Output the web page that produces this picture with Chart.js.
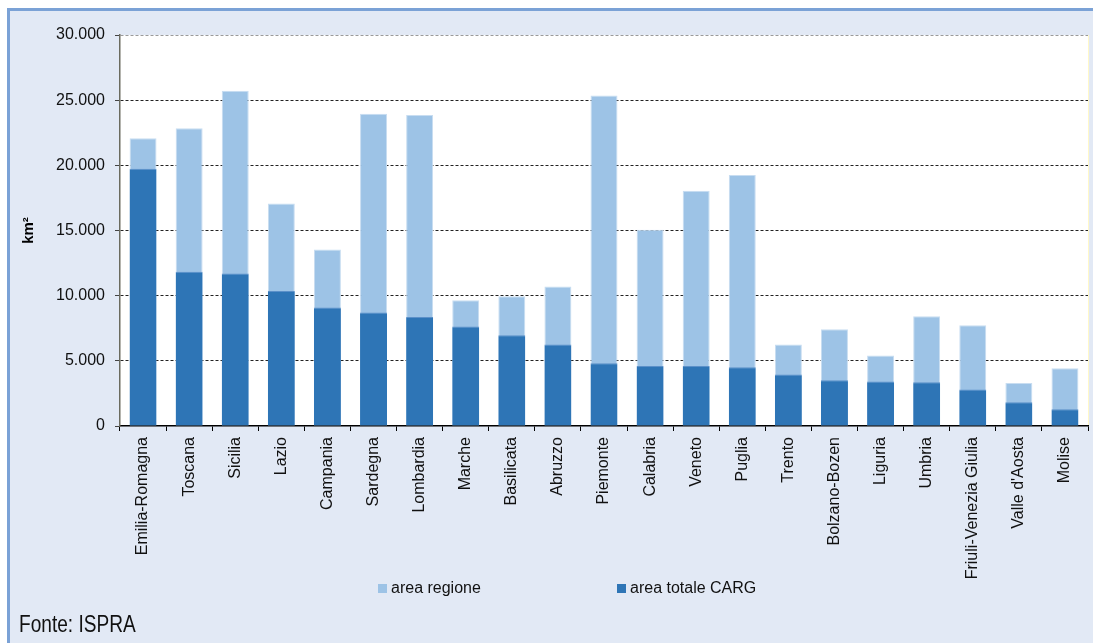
<!DOCTYPE html>
<html>
<head>
<meta charset="utf-8">
<script src="https://cdn.jsdelivr.net/npm/chart.js@4"></script>
<style>
  body { margin: 0; background: #fff; font-family: "Liberation Sans", Arial, sans-serif; }
  #frame { position: absolute; left: 7px; top: 8px; width: 1200px; height: 700px;
           background: #e2e9f5; border-left: 3px solid #7ba2d6; border-top: 3px solid #7ba2d6; }
  #wrap { position: absolute; left: 0; top: 0; width: 1093px; height: 643px; }
  #legend span.box { position: absolute; width: 9px; height: 9px; }
  #legend span.txt { position: absolute; font-size: 16px; color: #111; line-height: 16px; }
  #fonte { position: absolute; left: 19px; top: 611px; font-size: 23px; color: #111;
           transform: scaleX(0.83); transform-origin: left top; white-space: nowrap; }
</style>
</head>
<body>
<div id="frame"></div>
<div id="wrap"><canvas id="carg" width="1093" height="643"></canvas></div>
<div id="legend"></div>
<div id="fonte">Fonte: ISPRA</div>
<script>
const categories = ['Emilia-Romagna', 'Toscana', 'Sicilia', 'Lazio', 'Campania', 'Sardegna', 'Lombardia',
  'Marche', 'Basilicata', 'Abruzzo', 'Piemonte', 'Calabria', 'Veneto', 'Puglia', 'Trento',
  'Bolzano-Bozen', 'Liguria', 'Umbria', 'Friuli-Venezia Giulia', "Valle d'Aosta", 'Molise'];
// superficie regionale (km²)
const areaRegione = [22070, 22840, 25730, 17080, 13550, 23960, 23860, 9650, 9960, 10700, 25350,
  15050, 18050, 19260, 6250, 7430, 5410, 8430, 7730, 3290, 4440];
// area coperta dai fogli CARG (km²)
const areaCarg = [19740, 11830, 11700, 10350, 9090, 8710, 8370, 7630, 6970, 6250, 4820,
  4610, 4610, 4510, 3950, 3510, 3410, 3360, 2800, 1820, 1280];
const yTickValues = [0, 5000, 10000, 15000, 20000, 25000, 30000];

const fmt = v => String(v).replace(/\B(?=(\d{3})+(?!\d))/g, '.');

const plotBg = {
  id: 'plotBg',
  beforeDraw(chart) {
    const a = chart.chartArea, c = chart.ctx;
    c.save();
    c.fillStyle = '#ffffff';
    c.fillRect(a.left, a.top, a.right - a.left, a.bottom - a.top);
    c.strokeStyle = '#fff8c8';
    c.beginPath();
    c.moveTo(a.right + 0.5, a.top);
    c.lineTo(a.right + 0.5, a.bottom);
    c.stroke();
    c.restore();
  }
};

const chart = new Chart(document.getElementById('carg'), {
  type: 'bar',
  data: {
    labels: categories,
    datasets: [{
      label: 'area regione',
      data: areaRegione,
      backgroundColor: '#9dc3e6',
      borderColor: '#c8ddf1',
      borderWidth: 1,
      order: 1
    }, {
      label: 'area totale CARG',
      data: areaCarg,
      backgroundColor: '#2e75b6',
      borderColor: '#5b90c9',
      borderWidth: { top: 1 },
      order: 0
    }]
  },
  options: {
    responsive: false,
    animation: false,
    layout: { padding: { left: 10, right: 5, top: 35, bottom: 0 } },
    datasets: { bar: { grouped: false, categoryPercentage: 1, barPercentage: 0.585 } },
    plugins: { legend: { display: false }, tooltip: { enabled: false } },
    scales: {
      x: {
        grid: { drawOnChartArea: false, tickLength: 5, color: '#000', offset: true },
        border: { color: '#000', width: 1.5 },
        ticks: {
          color: '#111', font: { size: 16, family: 'Liberation Sans' },
          minRotation: 90, maxRotation: 90, padding: 6, autoSkip: false
        },
        afterFit(scale) { scale.height = 217; }
      },
      y: {
        min: 0, max: 30000,
        afterBuildTicks(scale) { scale.ticks = yTickValues.map(v => ({ value: v })); },
        grid: {
          color: ctx => ctx.tick && ctx.tick.value === 30000 ? '#9a9a9a' : (ctx.tick && ctx.tick.value === 0 ? 'rgba(0,0,0,0)' : '#222'),
          tickLength: 5,
          tickColor: '#444',
          tickBorderDash: []
        },
        border: { color: '#6b6b5f', width: 1.5, dash: [3, 2] },
        ticks: {
          color: '#111', font: { size: 16, family: 'Liberation Sans' }, padding: 10,
          callback: v => fmt(v)
        },
        title: {
          display: true, text: 'km²', color: '#000',
          font: { size: 15, weight: 'bold', family: 'Liberation Sans' },
          padding: { top: 10, bottom: 0 }
        },
        afterFit(scale) { scale.width = 110; }
      }
    }
  },
  plugins: [plotBg]
});

// legenda in basso
const legendPos = [378, 617];
const legend = document.getElementById('legend');
chart.data.datasets.forEach((ds, i) => {
  const box = document.createElement('span');
  box.className = 'box';
  box.style.left = legendPos[i] + 'px';
  box.style.top = '584px';
  box.style.background = ds.backgroundColor;
  const txt = document.createElement('span');
  txt.className = 'txt';
  txt.style.left = (legendPos[i] + 13) + 'px';
  txt.style.top = '580px';
  txt.textContent = ds.label;
  legend.appendChild(box);
  legend.appendChild(txt);
});
</script>
</body>
</html>
